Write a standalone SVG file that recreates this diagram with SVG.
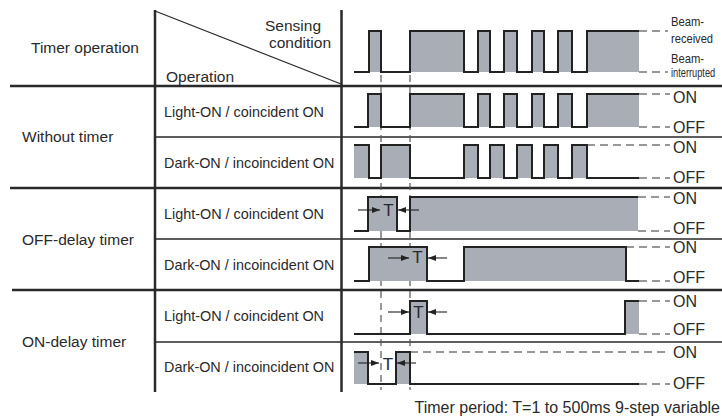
<svg xmlns="http://www.w3.org/2000/svg" width="722" height="417" viewBox="0 0 722 417">
<style>
.t{font-family:"Liberation Sans",Arial,sans-serif;fill:#2a2a2a}
.big{font-size:15.5px}
.sub{font-size:14.4px}
.lv{font-size:16px}
.tt{font-size:17px}
.bm{font-size:12.5px}
.thick{stroke:#2a2a2a;stroke-width:2.5;fill:none}
.thin{stroke:#2a2a2a;stroke-width:1.3;fill:none}
.wave{stroke:#222;stroke-width:2;fill:none;stroke-linejoin:miter}
.fill{fill:#a9adb6;stroke:none}
.dh{stroke:#333;stroke-width:1.2;fill:none;stroke-dasharray:8,5}
.dv{stroke:#555;stroke-width:1.2;fill:none;stroke-dasharray:7,5}
.arr{stroke:#222;stroke-width:1.1;fill:none;marker-end:url(#ah)}
</style>
<defs>
<marker id="ah" viewBox="0 0 8 6" refX="8" refY="3" markerWidth="8" markerHeight="6" markerUnits="userSpaceOnUse" orient="auto">
<path d="M0,0 L8,3 L0,6 Z" fill="#222"/>
</marker>
</defs>
<rect width="722" height="417" fill="#fff"/>

<g id="table">
<path class="thick" d="M155,10 V392 M341.5,10 V392"/>
<path class="thin" d="M155,11 L341,84"/>
<path class="thick" d="M10,86 H722 M10,188 H722 M12,290 H722"/>
<path class="thin" d="M155,137 H722 M155,239 H722 M155,342 H722"/>
</g>

<g id="header">
<text class="t big" x="31" y="53">Timer operation</text>
<text class="t big" x="265" y="30.5">Sensing</text>
<text class="t big" x="269" y="48">condition</text>
<text class="t big" x="166" y="81.5">Operation</text>
</g>

<g id="row-labels">
<text class="t big" x="22" y="142">Without timer</text>
<text class="t big" x="22" y="245">OFF-delay timer</text>
<text class="t big" x="22" y="347">ON-delay timer</text>
<text class="t sub" x="164" y="117">Light-ON / coincident ON</text>
<text class="t sub" x="164" y="168">Dark-ON / incoincident ON</text>
<text class="t sub" x="164" y="219">Light-ON / coincident ON</text>
<text class="t sub" x="164" y="270">Dark-ON / incoincident ON</text>
<text class="t sub" x="164" y="321">Light-ON / coincident ON</text>
<text class="t sub" x="164" y="372">Dark-ON / incoincident ON</text>
</g>

<g id="guides">
<path class="dv" d="M381,75 V390 M410,75 V390"/>
</g>

<g id="sensing">
<path class="fill" d="M369,31H381V72H369Z M410,31H464V72H410Z M478,31H490V72H478Z M504,31H517V72H504Z M532,31H544V72H532Z M558,31H572V72H558Z M587,31H639V72H587Z"/>
<path class="wave" d="M354,72 H369 V31 H381 V72 H410 V31 H464 V72 H478 V31 H490 V72 H504 V31 H517 V72 H532 V31 H544 V72 H558 V31 H572 V72 H587 V31 H639"/>
<path class="dh" d="M639,31 H668 M639,72 H668"/>
<text class="t bm" transform="translate(671,26) scale(0.9,1)">Beam-</text>
<text class="t bm" transform="translate(671,43) scale(0.89,1)">received</text>
<text class="t bm" transform="translate(671,63) scale(0.9,1)">Beam-</text>
<text class="t bm" transform="translate(671,77) scale(0.74,1)">interrupted</text>
</g>

<g id="w1">
<path class="fill" d="M368,94H381V127H368Z M410,94H464V127H410Z M478,94H490V127H478Z M504,94H517V127H504Z M532,94H544V127H532Z M558,94H572V127H558Z M587,94H639V127H587Z"/>
<path class="wave" d="M354,127 H368 V94 H381 V127 H410 V94 H464 V127 H478 V94 H490 V127 H504 V94 H517 V127 H532 V94 H544 V127 H558 V94 H572 V127 H587 V94 H639"/>
<path class="dh" d="M639,94 H670 M639,127 H670"/>
<text class="t lv" x="673" y="103">ON</text>
<text class="t lv" x="673" y="133">OFF</text>
</g>

<g id="w2">
<path class="fill" d="M354,145H369V178H354Z M381,145H410V178H381Z M464,145H478V178H464Z M490,145H504V178H490Z M517,145H532V178H517Z M544,145H558V178H544Z M572,145H587V178H572Z"/>
<path class="wave" d="M354,145 H369 V178 H381 V145 H410 V178 H464 V145 H478 V178 H490 V145 H504 V178 H517 V145 H532 V178 H544 V145 H558 V178 H572 V145 H587 V178 H639"/>
<path class="dh" d="M587,145 H670 M639,178 H670"/>
<text class="t lv" x="673" y="153">ON</text>
<text class="t lv" x="673" y="183">OFF</text>
</g>

<g id="w3">
<path class="fill" d="M368,197H397V231H368Z M410,197H638V231H410Z"/>
<path class="wave" d="M354,231 H368 V197 H397 V231 H410 V197 H638"/>
<path class="dh" d="M638,197 H670 M638,231 H670"/>
<path class="arr" d="M358,210 H380"/>
<path class="arr" d="M419,210 H398"/>
<text class="t tt" x="388.5" y="216" text-anchor="middle">T</text>
<text class="t lv" x="673" y="204">ON</text>
<text class="t lv" x="673" y="234">OFF</text>
</g>

<g id="w4">
<path class="fill" d="M369,247H427V281H369Z M464,247H626V281H464Z"/>
<path class="wave" d="M354,281 H369 V247 H427 V281 H464 V247 H626 V281 H639"/>
<path class="dh" d="M626,247 H670 M639,281 H670"/>
<path class="arr" d="M388,258 H409"/>
<path class="arr" d="M447,258 H428"/>
<text class="t tt" x="417.5" y="263" text-anchor="middle">T</text>
<text class="t lv" x="673" y="253">ON</text>
<text class="t lv" x="673" y="283">OFF</text>
</g>

<g id="w5">
<path class="fill" d="M410,301H427V334H410Z M625,301H639V334H625Z"/>
<path class="wave" d="M354,334 H410 V301 H427 V334 H625 V301 H639"/>
<path class="dh" d="M639,301 H670 M639,334 H670"/>
<path class="arr" d="M388,312 H409"/>
<path class="arr" d="M447,312 H428"/>
<text class="t tt" x="418.5" y="317.5" text-anchor="middle">T</text>
<text class="t lv" x="673" y="307">ON</text>
<text class="t lv" x="673" y="335">OFF</text>
</g>

<g id="w6">
<path class="fill" d="M354,352H368V384H354Z M396,352H410V384H396Z"/>
<path class="wave" d="M354,352 H368 V384 H396 V352 H410 V384 H639"/>
<path class="dh" d="M410,352 H670 M639,384 H670"/>
<path class="arr" d="M358,363 H379"/>
<path class="arr" d="M416,363 H397"/>
<text class="t tt" x="388" y="370" text-anchor="middle">T</text>
<text class="t lv" x="673" y="358">ON</text>
<text class="t lv" x="673" y="389">OFF</text>
</g>

<text class="t lv" x="720" y="413" text-anchor="end">Timer period: T=1 to 500ms 9-step variable</text>
</svg>
